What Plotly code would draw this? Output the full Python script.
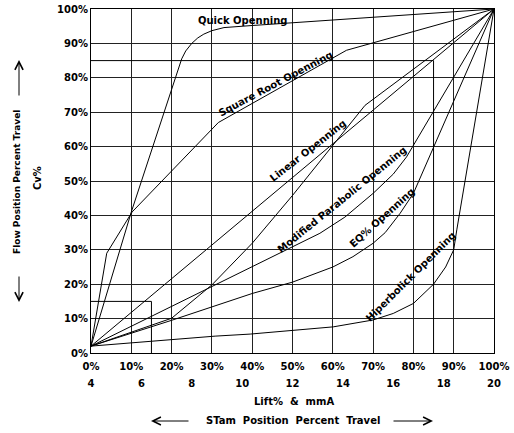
import plotly.graph_objects as go

# ---- axis ticks ----
lift_ticks = [0, 10, 20, 30, 40, 50, 60, 70, 80, 90, 100]
lift_labels = ["0%", "10%", "20%", "30%", "40%", "50%", "60%", "70%", "80%", "90%", "100%"]
ma_ticks = [4, 6, 8, 10, 12, 14, 16, 18, 20]
ma_labels = ["4", "6", "8", "10", "12", "14", "16", "18", "20"]
cv_ticks = [0, 10, 20, 30, 40, 50, 60, 70, 80, 90, 100]
cv_labels = ["0%", "10%", "20%", "30%", "40%", "50%", "60%", "70%", "80%", "90%", "100%"]

# ---- guide boxes (levels, %) ----
guide_small = 15
guide_large = 85

# ---- characteristic curves (lift %, Cv %) ----
quick_x = [0, 10, 22.5, 23.5, 25, 26.5, 28, 30, 33, 40, 100]
quick_y = [2, 41, 85.5, 87.8, 90, 91.6, 92.7, 93.7, 94.6, 95.2, 100]

sqrt_x = [0, 3.9, 10.2, 31.6, 63.4, 100]
sqrt_y = [2, 29, 41, 67, 88, 100]

linear_x = [0, 100]
linear_y = [2, 100]

scurve_x = [0, 20, 30, 40, 50, 60, 68, 100]
scurve_y = [2, 10.1, 19.8, 31.9, 45.8, 60.5, 72, 100]

modpar_x = [0, 40, 56.8, 63, 70, 75, 78.3, 100]
modpar_y = [2, 25, 34.8, 39.5, 46.4, 52, 57, 100]

eq_x = [0, 20, 40, 50, 60, 65, 70, 73, 76.7, 80, 100]
eq_y = [2, 9.5, 17.3, 20.6, 25, 28, 31.9, 35, 40.6, 46.4, 100]

hyper_x = [0, 30.8, 39.5, 60.1, 70, 75, 80, 85, 88, 90, 90.8, 91.8, 100]
hyper_y = [2, 4.9, 5.5, 7.6, 9.6, 11.5, 14.4, 20, 25, 30, 36, 43, 100]

curves = [
    ("Quick Openning", quick_x, quick_y),
    ("Square Root Openning", sqrt_x, sqrt_y),
    ("Linear Openning", linear_x, linear_y),
    ("S curve", scurve_x, scurve_y),
    ("Modified Parabolic Openning", modpar_x, modpar_y),
    ("EQ% Openning", eq_x, eq_y),
    ("Hiperbolick Openning", hyper_x, hyper_y),
]

FONT = dict(family="DejaVu Sans", size=10, color="black", weight="bold")
FONT_SMALL = dict(family="DejaVu Sans", size=9, color="black", weight="bold")

fig = go.Figure()

# guide boxes
for g in (guide_small, guide_large):
    fig.add_trace(go.Scatter(x=[0, g, g], y=[g, g, 0], mode="lines",
                             line=dict(color="black", width=1),
                             hoverinfo="skip", showlegend=False))

for name, xs, ys in curves:
    fig.add_trace(go.Scatter(x=xs, y=ys, mode="lines", name=name,
                             line=dict(color="black", width=1),
                             showlegend=False))

# invisible trace for the mA axis
fig.add_trace(go.Scatter(x=ma_ticks, y=[0] * len(ma_ticks), xaxis="x2",
                         mode="markers", marker=dict(opacity=0),
                         hoverinfo="skip", showlegend=False))

# curve labels
labels = [
    ("Quick Openning", 37.7, 96.6, 0),
    ("Square Root Openning", 45.9, 78.2, -28),
    ("Linear Openning", 53.8, 59.0, -38),
    ("Modified Parabolic Openning", 62.3, 44.5, -39),
    ("EQ% Openning", 72.2, 39.5, -42),
    ("Hiperbolick Openning", 79.4, 22.1, -45),
]
for txt, x, y, ang in labels:
    fig.add_annotation(x=x, y=y, text=txt, showarrow=False, textangle=ang,
                       font=FONT, xref="x", yref="y",
                       xanchor="center", yanchor="middle")


def px_x(p):
    return (p - 91) / 403


def px_y(p):
    return (353 - p) / 344


# axis titles
titles = [
    ("Lift%  &  mmA", 294, 401, 0, FONT),
    ("STam  Position  Percent  Travel", 293, 421, 0, FONT),
    ("Flow Position Percent Travel", 17, 182, -90, FONT_SMALL),
    ("Cv%", 37, 178, -90, FONT),
]
for txt, x, y, ang, fnt in titles:
    fig.add_annotation(x=px_x(x), y=px_y(y), xref="paper", yref="paper",
                       text=txt, showarrow=False, textangle=ang, font=fnt,
                       xanchor="center", yanchor="middle")

# arrows: head position (px) and tail offset (px)
arrows = [
    (151, 421, 39, 0),
    (433, 421, -41, 0),
    (19, 60, 0, 37),
    (19, 302, 0, -27),
]
for hx, hy, ax, ay in arrows:
    fig.add_annotation(x=px_x(hx), y=px_y(hy), xref="paper", yref="paper",
                       ax=ax, ay=ay, text="", showarrow=True,
                       arrowhead=5, arrowsize=1.6, arrowwidth=1, arrowcolor="black")

axis_common = dict(showgrid=True, gridcolor="#222", gridwidth=1, zeroline=False,
                   showline=True, linecolor="black", linewidth=1, mirror=True,
                   ticks="", tickfont=FONT, automargin=False)

fig.update_layout(
    width=514, height=433, autosize=False,
    margin=dict(l=91, r=20, t=9, b=80, autoexpand=False),
    paper_bgcolor="white", plot_bgcolor="white",
    xaxis=dict(range=[0, 100], tickvals=lift_ticks, ticktext=lift_labels,
               ticklabelstandoff=4, **axis_common),
    yaxis=dict(range=[0, 100], tickvals=cv_ticks, ticktext=cv_labels, **axis_common),
    xaxis2=dict(range=[4, 20], tickvals=ma_ticks, ticktext=ma_labels, overlaying="x",
                side="bottom", anchor="y", showgrid=False, showline=False, zeroline=False,
                ticks="", tickfont=FONT, ticklabelstandoff=23, automargin=False),
    showlegend=False,
)

fig.write_html("out.html", config={"displayModeBar": False},
               post_script="document.body.style.margin='0';document.body.style.overflow='hidden';")
